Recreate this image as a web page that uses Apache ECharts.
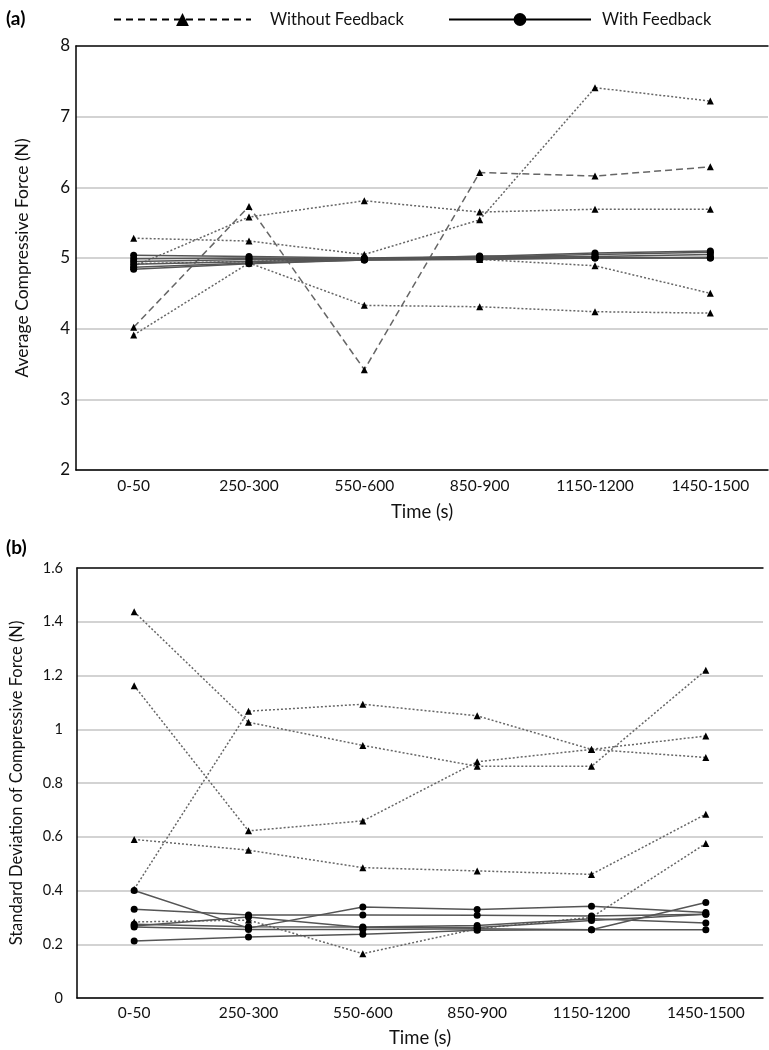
<!DOCTYPE html>
<html>
<head>
<meta charset="utf-8">
<script src="https://cdn.jsdelivr.net/npm/echarts@6/dist/echarts.min.js"></script>
<style>
html,body{margin:0;padding:0;background:#fff;}
#c{width:769px;height:1050px;}
</style>
</head>
<body>
<div id="c"></div>
<script>
const categories = ['0-50', '250-300', '550-600', '850-900', '1150-1200', '1450-1500'];

// Panel (a): average compressive force (N)
const aW1 = [4.02, 5.73, 3.42, 6.21, 6.16, 6.29];
const aW2 = [4.88, 5.58, 5.81, 5.65, 5.69, 5.69];
const aW3 = [5.28, 5.24, 5.05, 5.54, 7.41, 7.22];
const aW4 = [3.91, 4.93, 4.33, 4.31, 4.24, 4.22];
const aW5 = [4.92, 4.95, 5.00, 4.98, 4.89, 4.50];
const aF1 = [5.04, 5.02, 5.00, 5.02, 5.07, 5.10];
const aF2 = [4.99, 5.00, 4.99, 5.01, 5.05, 5.08];
const aF3 = [4.95, 4.98, 4.98, 5.00, 5.02, 5.05];
const aF4 = [4.91, 4.95, 4.98, 5.03, 5.01, 5.00];
const aF5 = [4.87, 4.93, 4.97, 4.99, 5.00, 5.00];
const aF6 = [4.84, 4.92, 4.97, 4.98, 5.00, 5.01];

// Panel (b): standard deviation of compressive force (N)
const bW1 = [1.437, 1.026, 0.940, 0.862, 0.862, 1.220];
const bW2 = [1.162, 0.622, 0.659, 0.879, 0.925, 0.975];
const bW3 = [0.405, 1.067, 1.093, 1.050, 0.925, 0.895];
const bW4 = [0.590, 0.550, 0.485, 0.473, 0.460, 0.684];
const bW5 = [0.283, 0.290, 0.165, 0.258, 0.300, 0.575];
const bF1 = [0.400, 0.260, 0.339, 0.329, 0.341, 0.318];
const bF2 = [0.330, 0.309, 0.309, 0.308, 0.305, 0.312];
const bF3 = [0.274, 0.265, 0.264, 0.270, 0.295, 0.279];
const bF4 = [0.264, 0.255, 0.255, 0.258, 0.254, 0.355];
const bF5 = [0.212, 0.227, 0.237, 0.252, 0.254, 0.254];
const bF6 = [0.268, 0.301, 0.262, 0.262, 0.288, 0.312];

const NAME_W = 'Without Feedback';
const NAME_F = 'With Feedback';
const FONT = 'Lato';

function wSeries(data, g, dash) {
  return {
    name: NAME_W, type: 'line', data: data,
    xAxisIndex: g, yAxisIndex: g,
    symbol: 'triangle', symbolSize: 7,
    itemStyle: {color: '#000'},
    lineStyle: {color: '#666', width: 1.5, type: dash || [2, 2]},
    z: 2, animation: false
  };
}
function fSeries(data, g) {
  return {
    name: NAME_F, type: 'line', data: data,
    xAxisIndex: g, yAxisIndex: g,
    symbol: 'circle', symbolSize: 7,
    itemStyle: {color: '#000'},
    lineStyle: {color: '#555', width: 1.5, type: 'solid'},
    z: 3, animation: false
  };
}

const axisLabelStyle = {color: '#111', fontFamily: FONT};

const option = {
  backgroundColor: '#fff',
  textStyle: {fontFamily: FONT},
  title: [
    {text: '(a)', left: 1, top: 4, textStyle: {fontSize: 19, fontWeight: 'bold', color: '#000', fontFamily: FONT}},
    {text: '(b)', left: 1, top: 533, textStyle: {fontSize: 19, fontWeight: 'bold', color: '#000', fontFamily: FONT}}
  ],
  legend: [
    {
      left: 108, top: 6, itemWidth: 137, itemHeight: 16,
      textStyle: {fontSize: 16.5, color: '#111', fontFamily: FONT, padding: [0, 0, 0, 14]},
      data: [{name: NAME_W, itemStyle: {color: '#000'}, lineStyle: {color: '#000', width: 2, type: [7, 5]}}],
      selectedMode: false
    },
    {
      left: 443, top: 6, itemWidth: 142, itemHeight: 16,
      textStyle: {fontSize: 16.5, color: '#111', fontFamily: FONT, padding: [0, 0, 0, 6]},
      data: [{name: NAME_F, itemStyle: {color: '#000'}, lineStyle: {color: '#000', width: 2, type: 'solid'}}],
      selectedMode: false
    }
  ],
  grid: [
    {left: 76, top: 46, width: 692, height: 424},
    {left: 73, top: 568, width: 690, height: 430}
  ],
  xAxis: [
    {
      type: 'category', gridIndex: 0, data: categories, boundaryGap: true,
      axisLine: {lineStyle: {color: '#000', width: 1.5}},
      axisTick: {show: false},
      axisLabel: Object.assign({fontSize: 15.5, margin: 8, interval: 0}, axisLabelStyle),
      name: 'Time (s)', nameLocation: 'middle', nameGap: 33,
      nameTextStyle: {fontSize: 18.5, color: '#111', fontFamily: FONT}
    },
    {
      type: 'category', gridIndex: 1, data: categories, boundaryGap: true,
      axisLine: {lineStyle: {color: '#000', width: 1.5}},
      axisTick: {show: false},
      axisLabel: Object.assign({fontSize: 15.5, margin: 7, interval: 0}, axisLabelStyle),
      name: 'Time (s)', nameLocation: 'middle', nameGap: 31,
      nameTextStyle: {fontSize: 18.5, color: '#111', fontFamily: FONT}
    },
    {
      type: 'category', gridIndex: 0, data: categories, position: 'top',
      axisLine: {lineStyle: {color: '#111', width: 1.5}},
      axisTick: {show: false}, axisLabel: {show: false}
    },
    {
      type: 'category', gridIndex: 1, data: categories, position: 'top',
      axisLine: {lineStyle: {color: '#111', width: 1.5}},
      axisTick: {show: false}, axisLabel: {show: false}
    }
  ],
  yAxis: [
    {
      type: 'value', gridIndex: 0, min: 2, max: 8, interval: 1,
      axisLine: {show: true, lineStyle: {color: '#000', width: 1.5}},
      axisTick: {show: false},
      axisLabel: Object.assign({fontSize: 17, margin: 6}, axisLabelStyle),
      splitLine: {lineStyle: {color: '#c4c4c4', width: 1.5}},
      name: 'Average Compressive Force (N)', nameLocation: 'middle', nameGap: 45,
      nameTextStyle: {fontSize: 17.5, color: '#111', fontFamily: FONT}
    },
    {
      type: 'value', gridIndex: 1, min: 0, max: 1.6, interval: 0.2,
      axisLine: {show: true, lineStyle: {color: '#000', width: 1.5}},
      axisTick: {show: false},
      axisLabel: Object.assign({fontSize: 14.5, margin: 14,
        formatter: function (v) { return String(Math.round(v * 10) / 10); }}, axisLabelStyle),
      splitLine: {lineStyle: {color: '#c4c4c4', width: 1.5}},
      name: 'Standard Deviation of Compressive Force (N)', nameLocation: 'middle', nameGap: 52,
      nameTextStyle: {fontSize: 16.5, color: '#111', fontFamily: FONT}
    }
  ],
  series: [
    wSeries(aW1, 0, [7, 4]), wSeries(aW2, 0), wSeries(aW3, 0), wSeries(aW4, 0), wSeries(aW5, 0),
    fSeries(aF1, 0), fSeries(aF2, 0), fSeries(aF3, 0), fSeries(aF4, 0), fSeries(aF5, 0), fSeries(aF6, 0),
    wSeries(bW1, 1), wSeries(bW2, 1), wSeries(bW3, 1), wSeries(bW4, 1), wSeries(bW5, 1),
    fSeries(bF1, 1), fSeries(bF2, 1), fSeries(bF3, 1), fSeries(bF4, 1), fSeries(bF5, 1), fSeries(bF6, 1)
  ]
};

const chart = echarts.init(document.getElementById('c'), null, {renderer: 'canvas'});
chart.setOption(option);
</script>
</body>
</html>
